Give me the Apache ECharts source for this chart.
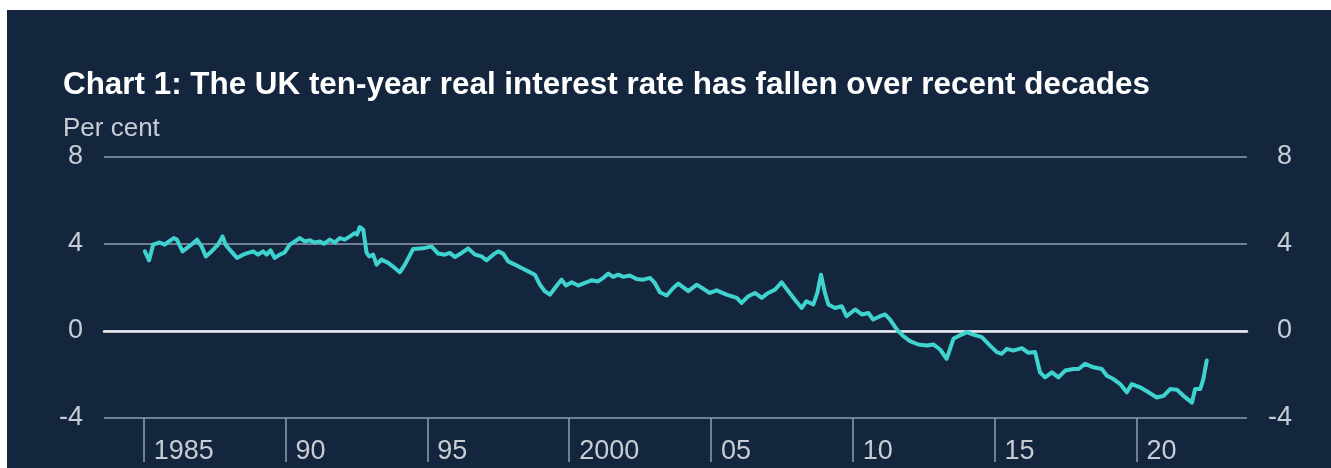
<!DOCTYPE html>
<html>
<head>
<meta charset="utf-8">
<script src="https://cdn.jsdelivr.net/npm/echarts@6/dist/echarts.min.js"></script>
<style>
  html, body { margin: 0; padding: 0; background: #ffffff; }
  #main { position: absolute; left: 7px; top: 10px; width: 1324px; height: 458px; background: #14263e; }
</style>
</head>
<body>
<div id="main"></div>
<script>
// UK ten-year real interest rate, per cent
var years = [1985.04,1985.19,1985.33,1985.56,1985.74,1985.89,1986.06,1986.17,1986.37,1986.53,
  1986.72,1986.88,1987.04,1987.19,1987.39,1987.62,1987.78,1987.89,1988.03,1988.29,
  1988.5,1988.68,1988.86,1989.03,1989.21,1989.33,1989.47,1989.62,1989.8,1989.97,
  1990.15,1990.33,1990.5,1990.68,1990.86,1991.03,1991.21,1991.35,1991.56,1991.74,
  1991.91,1992.09,1992.27,1992.44,1992.52,1992.62,1992.74,1992.86,1992.95,1993.09,
  1993.21,1993.38,1993.62,1993.85,1994.03,1994.21,1994.5,1994.85,1995.15,1995.38,
  1995.62,1995.79,1995.97,1996.21,1996.44,1996.68,1996.91,1997.09,1997.32,1997.5,
  1997.67,1997.85,1998.09,1998.32,1998.56,1998.79,1998.97,1999.14,1999.32,1999.5,
  1999.73,1999.89,2000.09,2000.32,2000.56,2000.79,2001.02,2001.2,2001.38,2001.55,
  2001.73,2001.91,2002.14,2002.38,2002.61,2002.85,2003.02,2003.2,2003.44,2003.67,
  2003.85,2004.2,2004.5,2004.96,2005.2,2005.55,2005.91,2006.08,2006.32,2006.55,
  2006.79,2007.02,2007.26,2007.49,2007.73,2007.96,2008.2,2008.37,2008.61,2008.75,
  2008.88,2009.02,2009.14,2009.37,2009.61,2009.78,2010.08,2010.32,2010.55,2010.72,
  2010.96,2011.14,2011.31,2011.55,2011.78,2012.02,2012.31,2012.61,2012.84,2013.08,
  2013.31,2013.55,2013.78,2014.02,2014.25,2014.55,2014.84,2015.08,2015.25,2015.43,
  2015.66,2015.96,2016.19,2016.43,2016.6,2016.78,2017.02,2017.25,2017.49,2017.78,
  2017.96,2018.19,2018.49,2018.78,2018.96,2019.19,2019.43,2019.66,2019.84,2020.13,
  2020.43,2020.72,2020.96,2021.19,2021.43,2021.66,2021.96,2022.07,2022.25,2022.36,2022.48];

var rates = [3.66,3.25,3.97,4.07,3.97,4.12,4.27,4.2,3.66,3.82,
  4.01,4.2,3.89,3.43,3.66,3.97,4.35,3.97,3.74,3.36,
  3.51,3.59,3.66,3.51,3.66,3.51,3.71,3.36,3.51,3.61,
  3.97,4.12,4.27,4.12,4.17,4.07,4.12,4.01,4.2,4.07,
  4.27,4.2,4.35,4.5,4.43,4.78,4.66,3.59,3.43,3.51,
  3.05,3.28,3.13,2.9,2.7,3.05,3.77,3.8,3.89,3.56,
  3.51,3.59,3.4,3.59,3.8,3.51,3.43,3.25,3.51,3.66,
  3.56,3.2,3.05,2.9,2.74,2.59,2.13,1.83,1.67,1.98,
  2.36,2.09,2.24,2.09,2.21,2.33,2.28,2.44,2.64,2.49,
  2.59,2.49,2.55,2.39,2.36,2.44,2.21,1.78,1.63,1.98,
  2.18,1.83,2.13,1.75,1.87,1.67,1.52,1.29,1.6,1.75,
  1.52,1.75,1.9,2.24,1.83,1.44,1.06,1.37,1.22,1.75,
  2.59,1.75,1.22,1.06,1.14,0.68,0.99,0.76,0.83,0.53,
  0.68,0.76,0.53,0.07,-0.24,-0.47,-0.62,-0.67,-0.62,-0.85,
  -1.28,-0.36,-0.2,-0.05,-0.17,-0.28,-0.67,-0.97,-1.05,-0.82,
  -0.9,-0.79,-1.0,-0.97,-1.9,-2.13,-1.9,-2.13,-1.82,-1.75,
  -1.75,-1.51,-1.67,-1.75,-2.06,-2.21,-2.44,-2.82,-2.44,-2.59,
  -2.82,-3.06,-2.98,-2.67,-2.7,-2.98,-3.29,-2.67,-2.67,-2.21,-1.36];

var xTicks = [1985, 1990, 1995, 2000, 2005, 2010, 2015, 2020];
var xTickLabels = ['1985', '90', '95', '2000', '05', '10', '15', '20'];

var FONT = '"Liberation Sans", Arial, Helvetica, sans-serif';
var gridColor = '#8e9eb2';
var labelColor = '#c8cdd5';

var myChart = echarts.init(document.getElementById('main'));

var option = {
  backgroundColor: 'transparent',
  animation: false,
  title: [
    {
      text: 'Chart 1: The UK ten-year real interest rate has fallen over recent decades',
      left: 51,
      top: 55,
      textStyle: { color: '#ffffff', fontFamily: FONT, fontWeight: 'bold', fontSize: 31.4 }
    },
    {
      text: 'Per cent',
      left: 51,
      top: 101,
      textStyle: { color: labelColor, fontFamily: FONT, fontWeight: 'normal', fontSize: 26 }
    }
  ],
  grid: { left: 97, right: 84, top: 147, bottom: 50 },
  xAxis: [
    {
      type: 'value',
      min: 1983.6,
      max: 2023.9,
      position: 'bottom',
      axisLine: { show: false, onZero: false },
      splitLine: { show: false },
      axisTick: {
        show: true,
        customValues: xTicks,
        length: 44,
        lineStyle: { color: gridColor, width: 1.5 }
      },
      axisLabel: {
        customValues: xTicks,
        color: labelColor,
        fontFamily: FONT,
        fontSize: 27,
        align: 'left',
        margin: 20,
        padding: [0, 0, 0, 10],
        formatter: function (v) {
          var i = xTicks.indexOf(Math.round(v));
          return i >= 0 ? xTickLabels[i] : '';
        }
      }
    },
    {
      // zero line
      type: 'value',
      min: 1983.6,
      max: 2023.9,
      axisLine: { show: true, onZero: true, lineStyle: { color: '#eef0f2', width: 2.5 } },
      axisTick: { show: false },
      axisLabel: { show: false },
      splitLine: { show: false }
    }
  ],
  yAxis: [
    {
      type: 'value',
      min: -4,
      max: 8,
      interval: 4,
      position: 'left',
      axisLine: { show: false },
      axisTick: { show: false },
      splitLine: { show: true, lineStyle: { color: gridColor, width: 1.5 } },
      axisLabel: { color: labelColor, fontFamily: FONT, fontSize: 27, margin: 21 }
    },
    {
      type: 'value',
      min: -4,
      max: 8,
      interval: 4,
      position: 'right',
      axisLine: { show: false },
      axisTick: { show: false },
      splitLine: { show: false },
      axisLabel: { color: labelColor, fontFamily: FONT, fontSize: 27, margin: 45, align: 'right' }
    }
  ],
  series: [
    {
      name: 'Real rate',
      type: 'line',
      xAxisIndex: 0,
      yAxisIndex: 0,
      showSymbol: false,
      symbol: 'none',
      z: 5,
      lineStyle: { color: '#3fd3cf', width: 4, join: 'round', cap: 'round' },
      data: years.map(function (y, i) { return [y, rates[i]]; })
    }
  ]
};

myChart.setOption(option);
window.addEventListener('resize', function () { myChart.resize(); });
</script>
</body>
</html>
